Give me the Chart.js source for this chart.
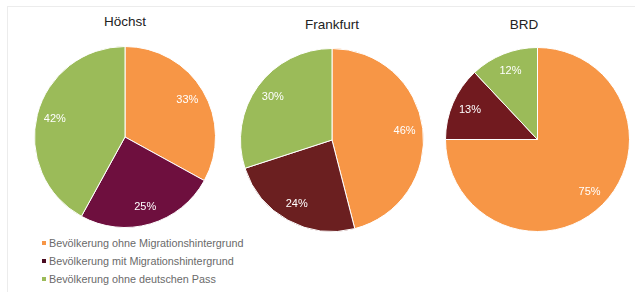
<!DOCTYPE html>
<html>
<head>
<meta charset="utf-8">
<script src="https://cdn.jsdelivr.net/npm/chart.js@4/dist/chart.umd.min.js"></script>
<style>
  body { margin: 0; background: #fff; }
  #wrap { position: relative; width: 635px; height: 292px; overflow: hidden; font-family: "Liberation Sans", Arial, sans-serif; }
  .frame { position: absolute; left: 7px; top: 6px; width: 640px; height: 300px; border-top: 1px solid #ececec; border-left: 1px solid #ececec; }
  .title { position: absolute; width: 120px; text-align: center; font-size: 13.5px; color: #222; }
  .pie { position: absolute; }
  #legend { position: absolute; left: 42px; top: 236px; font-size: 10.8px; color: #6a6a6a; }
  #legend div { height: 18px; line-height: 14px; }
  #legend span { display: inline-block; width: 4px; height: 4px; margin-right: 3px; vertical-align: 2px; }
</style>
</head>
<body>
<div id="wrap">
  <div class="frame"></div>
  <div class="title" style="left:65px;top:14px">Höchst</div>
  <div class="title" style="left:272px;top:17px">Frankfurt</div>
  <div class="title" style="left:464px;top:17px">BRD</div>
  <canvas id="c0" class="pie" width="182" height="182" style="left:34px;top:46px"></canvas>
  <canvas id="c1" class="pie" width="184" height="184" style="left:240px;top:48px"></canvas>
  <canvas id="c2" class="pie" width="185" height="185" style="left:445px;top:47px"></canvas>
  <div id="legend"></div>
</div>
<script>
const regions = ["Höchst", "Frankfurt", "BRD"];
const categories = [
  "Bevölkerung ohne Migrationshintergrund",
  "Bevölkerung mit Migrationshintergrund",
  "Bevölkerung ohne deutschen Pass",
];
const hoechst = [33, 25, 42];
const frankfurt = [46, 24, 30];
const brd = [75, 13, 12];

const orange = "#F79646";
const green = "#9BBB59";
const maroons = ["#6E0F3E", "#6B1F20", "#711A1F"];

// white percentage labels inside the slices
const sliceLabels = {
  id: "sliceLabels",
  afterDatasetsDraw(chart) {
    const ctx = chart.ctx;
    const meta = chart.getDatasetMeta(0);
    const values = chart.data.datasets[0].data;
    ctx.save();
    ctx.fillStyle = "#fff";
    ctx.font = "11px 'Liberation Sans', Arial, sans-serif";
    ctx.textAlign = "center";
    ctx.textBaseline = "middle";
    meta.data.forEach((arc, i) => {
      const p = arc.getProps(["x", "y", "startAngle", "endAngle", "outerRadius"], true);
      const mid = (p.startAngle + p.endAngle) / 2;
      const r = p.outerRadius * 0.8;
      ctx.fillText(values[i] + "%", p.x + Math.cos(mid) * r, p.y + Math.sin(mid) * r);
    });
    ctx.restore();
  },
};

[hoechst, frankfurt, brd].forEach((values, k) => {
  new Chart(document.getElementById("c" + k), {
    type: "pie",
    data: {
      labels: categories,
      datasets: [{
        label: regions[k],
        data: values,
        backgroundColor: [orange, maroons[k], green],
        borderColor: "#fff",
        borderWidth: 1,
      }],
    },
    options: {
      responsive: false,
      animation: false,
      layout: { padding: 0 },
      plugins: {
        legend: { display: false },
        tooltip: { enabled: false },
        title: { display: false },
      },
    },
    plugins: [sliceLabels],
  });
});

const legendColors = [orange, "#4A0B22", green];
document.getElementById("legend").innerHTML = categories
  .map((c, i) => `<div><span style="background:${legendColors[i]}"></span>${c}</div>`)
  .join("");
</script>
</body>
</html>
